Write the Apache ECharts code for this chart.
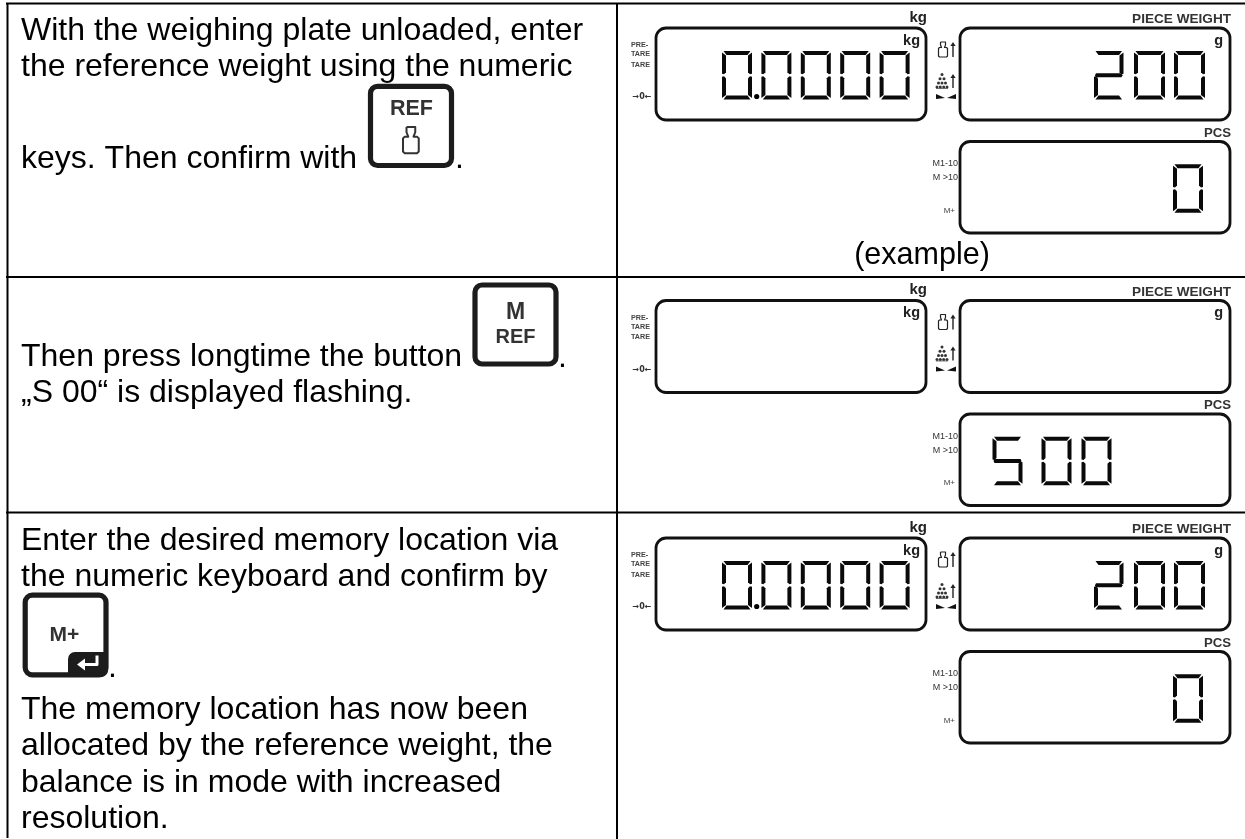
<!DOCTYPE html>
<html><head><meta charset="utf-8">
<script src="https://cdn.jsdelivr.net/npm/echarts@6/dist/echarts.min.js"></script>
<style>html,body{margin:0;padding:0;background:#fff}#c{width:1245px;height:839px}</style>
</head><body><div id="c"></div>
<script>
// ---- content ----
const row1Lines = ['With the weighing plate unloaded, enter', 'the reference weight using the numeric', 'keys. Then confirm with'];
const row2Lines = ['Then press longtime the button', '„S 00“ is displayed flashing.'];
const row3Lines = ['Enter the desired memory location via', 'the numeric keyboard and confirm by', 'The memory location has now been', 'allocated by the reference weight, the', 'balance is in mode with increased', 'resolution.'];
const caption = '(example)';
const kgReadouts = ['00000', '', '00000'];
const pieceReadouts = ['200', '', '200'];
const pcsReadouts = ['0', '500', '0'];
const panelOffsets = [0, 272.5, 510];

// ---- seven-segment glyphs ----
const SEG = {'0':'abcdef','2':'abged','5':'afgcd'};
const F = 'Liberation Sans';
const els = [];
const text = (x,y,s,size,o={}) => els.push({type:'text',x,y,silent:true,style:{text:s,fontFamily:o.font||F,fontSize:size,fontWeight:o.bold?'bold':'normal',fill:o.fill||'#000',align:o.align||'left',verticalAlign:'middle'}});
const line = (x1,y1,x2,y2,w=2,c='#000') => els.push({type:'line',shape:{x1,y1,x2,y2},style:{stroke:c,lineWidth:w}});
const poly = (points,fill='#000') => els.push({type:'polygon',shape:{points},style:{fill}});
const pline = (points,c,lw) => els.push({type:'polyline',shape:{points},style:{stroke:c,lineWidth:lw,fill:'none',lineJoin:'round'}});
const rrect = (x,y,width,height,r,stroke,lw,fill='none') => els.push({type:'rect',shape:{x,y,width,height,r},style:{fill,stroke,lineWidth:lw}});
const circ = (cx,cy,r,fill='#000') => els.push({type:'circle',shape:{cx,cy,r},style:{fill}});

function digit(ch,x,y,w=29,h=48.5){
  const t=4,m=y+h/2,g=0.9,r=x+w,b=y+h;
  const segs={
    a:[[x+1.5,y],[r-1.5,y],[r-t-.5,y+t],[x+t+.5,y+t]],
    d:[[x+1.5,b],[r-1.5,b],[r-t-.5,b-t],[x+t+.5,b-t]],
    f:[[x,y+1.5],[x+t,y+t+.5],[x+t,m-t/2-g],[x+t/2,m-g],[x,m-t/2-g+1.5]],
    e:[[x,b-1.5],[x+t,b-t-.5],[x+t,m+t/2+g],[x+t/2,m+g],[x,m+t/2+g-1.5]],
    b:[[r,y+1.5],[r-t,y+t+.5],[r-t,m-t/2-g],[r-t/2,m-g],[r,m-t/2-g+1.5]],
    c:[[r,b-1.5],[r-t,b-t-.5],[r-t,m+t/2+g],[r-t/2,m+g],[r,m+t/2+g-1.5]],
    g:[[x+2,m-t/2],[r-2,m-t/2],[r-1,m],[r-2,m+t/2],[x+2,m+t/2],[x+1,m]]
  };
  for(const s of SEG[ch]) poly(segs[s],'#0a0a0a');
}
function weightIcon(x,y,s=1,c='#222',lw=1.1){
  // small calibration weight outline
  const pts=[[2,0],[7,0],[7,3],[6,5.5],[8,5.5],[9,6.5],[9,14],[8,15],[1,15],[0,14],[0,6.5],[1,5.5],[3,5.5],[2,3],[2,0]].map(([a,b])=>[x+a*s,y+b*s]);
  pline(pts,c,lw);
}
function upArrow(x,y1,y2){
  line(x,y1+2,x,y2,1.4,'#222');
  poly([[x-2.6,y1+4],[x,y1],[x+2.6,y1+4]],'#222');
}
function panels(i){
  const o=panelOffsets[i];
  const A={x:656,y:28+o,w:270,h:92},B={x:960,y:28+o,w:270,h:92},C={x:960,y:141.5+o,w:270,h:91.5};
  for(const p of [A,B,C]) rrect(p.x,p.y,p.w,p.h,10,'#111',2.8,'#fff');
  text(927,17.5+o,'kg',15,{bold:true,align:'right',fill:'#222'});
  text(920,40.5+o,'kg',14.5,{bold:true,align:'right',fill:'#222'});
  text(1231,19.5+o,'PIECE WEIGHT',13.6,{bold:true,align:'right',fill:'#333'});
  text(1223,40.5+o,'g',14.5,{bold:true,align:'right',fill:'#222'});
  text(1231,133+o,'PCS',13.2,{bold:true,align:'right',fill:'#333'});
  // left indicators
  text(631,45.5+o,'PRE-',7.2,{bold:true,fill:'#444'});
  text(631,54.5+o,'TARE',7.2,{bold:true,fill:'#444'});
  text(631,65+o,'TARE',7.2,{bold:true,fill:'#444'});
  text(642,97+o,'→0←',8,{bold:true,align:'center',fill:'#333',font:'DejaVu Sans'});
  text(958,164+o,'M1-10',9,{align:'right',fill:'#333'});
  text(958,178+o,'M >10',9,{align:'right',fill:'#333'});
  text(955,210.5+o,'M+',8,{align:'right',fill:'#444'});
  // side icons
  weightIcon(938.5,42+o,1,'#222',1.2);
  upArrow(953,42+o,57+o);
  [[0,[942]],[1,[940,944]],[2,[938.5,942,945.5]],[3,[937,940.3,943.7,947]]].forEach(([r,xs])=>xs.forEach(cx=>circ(cx,74.5+r*4.2+o,1.5,'#333')));
  line(936,88.5+o,948,88.5+o,0.8,'#555');
  upArrow(953,74+o,88+o);
  poly([[936,94+o],[945,98+o],[936,99+o]],'#111');
  poly([[956,94+o],[947,98+o],[956,99+o]],'#111');
}
function drawReadouts(i){
  const o=panelOffsets[i];
  [...kgReadouts[i]].forEach((ch,k)=>digit(ch,722+k*39.4,51+o,30,48.5));
  if(kgReadouts[i]) circ(756.7,96.5+o,2.6);
  const pw=pieceReadouts[i];
  [...pw].forEach((ch,k)=>digit(ch,[1094,1134,1174][k],51+o,[29.5,31,31][k],48.5));
  const pcs=pcsReadouts[i];
  const xs=pcs.length===1?[1173]:[992.5,1041.5,1081.5];
  [...pcs].forEach((ch,k)=>digit(ch,xs[k],164.2+o,30,48.5));
}

// ---- table rules ----
line(6,3.5,1245,3.5,2);
line(6,277,1245,277,2);
line(6,512.5,1245,512.5,2);
line(7.5,3,7.5,838,2);
line(617,3,617,839,2);

// ---- left column text ----
const TS=32;
text(21,31,row1Lines[0],TS); text(21,67,row1Lines[1],TS); text(21,158.8,row1Lines[2],TS);
text(455,158.8,'.',TS);
text(21,357,row2Lines[0],TS); text(21,393,row2Lines[1],TS);
text(558,358,'.',TS);
text(21,541,row3Lines[0],TS); text(21,577,row3Lines[1],TS);
text(108,667.8,'.',TS);
text(21,710,row3Lines[2],TS); text(21,746,row3Lines[3],TS); text(21,782.7,row3Lines[4],TS); text(21,819.5,row3Lines[5],TS);
text(922,255.5,caption,30.5,{align:'center'});

// ---- key caps ----
rrect(370.5,86.3,81,79.2,7,'#1c1c1c',5.2,'#fff');
text(411.5,109.5,'REF',21.5,{bold:true,align:'center',fill:'#333'});
weightIcon(403,127,1.75,'#333',2);
rrect(475,285,81,79,7,'#1c1c1c',5.2,'#fff');
text(515.5,313,'M',23,{bold:true,align:'center',fill:'#333'});
text(515.5,337,'REF',20,{bold:true,align:'center',fill:'#333'});
rrect(25.2,595.2,80.8,79.6,7,'#1c1c1c',5.2,'#fff');
text(64.5,635.5,'M+',21,{bold:true,align:'center',fill:'#333'});
els.push({type:'rect',shape:{x:68,y:652,width:40,height:25,r:[7,0,7,0]},style:{fill:'#1c1c1c'}});
pline([[97,655.5],[97,664.5],[83,664.5]],'#fff',3);
poly([[77,664.5],[85,658.5],[85,670.5]],'#fff');

// ---- displays ----
[0,1,2].forEach(i=>{panels(i);drawReadouts(i);});

const chart=echarts.init(document.getElementById('c'),null,{renderer:'canvas'});
chart.setOption({animation:false,backgroundColor:'#fff',graphic:{elements:els}});
</script></body></html>
